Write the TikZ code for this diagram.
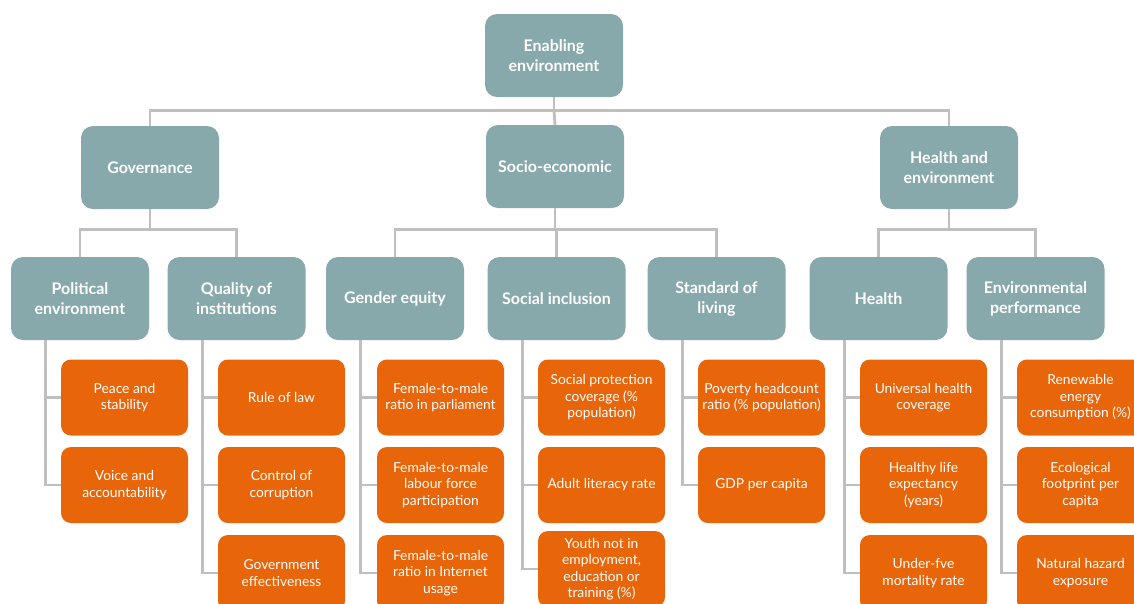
\documentclass[tikz,border=0pt]{standalone}
\usepackage{fontspec}
\setmainfont{Lato}
\definecolor{tealbox}{HTML}{88A9AC}
\definecolor{orangebox}{HTML}{E8650A}
\definecolor{linegray}{HTML}{BFBFBF}
\begin{document}
\begin{tikzpicture}[x=1pt,y=-1pt,
  catbox/.style={fill=tealbox,rounded corners=12pt,minimum width=138pt,minimum height=83pt,
    text=white,align=center,font=\fontsize{16}{20}\selectfont\bfseries,inner sep=2pt},
  indbox/.style={fill=orangebox,rounded corners=10pt,minimum width=127pt,minimum height=76pt,
    text=white,align=center,font=\fontsize{13.8}{16.5}\selectfont,inner sep=1pt},
  conn/.style={draw=linegray,line width=2.8pt}]
\useasboundingbox (0,0) rectangle (1134,603);
\clip (0,0) rectangle (1134,603);
% top level
\node[catbox] (top) at (554,55.5) {Enabling\\environment};
% level 2
\node[catbox] (gov) at (150,167.5) {Governance};
\node[catbox] (soc) at (555,166.5) {Socio-economic};
\node[catbox] (hae) at (949,167.5) {Health and\\environment};
% level 3
\node[catbox] (pol) at (80,298.5) {Political\\environment};
\node[catbox] (qual) at (236.5,298.5) {Quality of\\institutions};
\node[catbox] (gen) at (395,298.5) {Gender equity};
\node[catbox] (sinc) at (556.5,298.5) {Social inclusion};
\node[catbox] (std) at (716.5,298.5) {Standard of\\living};
\node[catbox] (hlth) at (878.5,298.5) {Health};
\node[catbox] (envp) at (1035.5,298.5) {Environmental\\performance};
% indicators
\node[indbox] (pol1) at (124.5,397.5) {Peace and\\stability};
\node[indbox] (pol2) at (124.5,485) {Voice and\\accountability};
\node[indbox] (qual1) at (281.5,397.5) {Rule of law};
\node[indbox] (qual2) at (281.5,485) {Control of\\corruption};
\node[indbox] (qual3) at (281.5,573) {Government\\effectiveness};
\node[indbox] (gen1) at (440.5,397.5) {Female-to-male\\ratio in parliament};
\node[indbox] (gen2) at (440.5,485) {Female-to-male\\labour force\\participation};
\node[indbox] (gen3) at (440.5,573) {Female-to-male\\ratio in Internet\\usage};
\node[indbox] (sinc1) at (601.5,397.5) {Social protection\\coverage (\%\\population)};
\node[indbox] (sinc2) at (601.5,485) {Adult literacy rate};
\node[indbox] (sinc3) at (601.5,569) {Youth not in\\employment,\\education or\\training (\%)};
\node[indbox] (std1) at (761.5,397.5) {Poverty headcount\\ratio (\% population)};
\node[indbox] (std2) at (761.5,485) {GDP per capita};
\node[indbox] (hlth1) at (923.5,397.5) {Universal health\\coverage};
\node[indbox] (hlth2) at (923.5,485) {Healthy life\\expectancy\\(years)};
\node[indbox] (hlth3) at (923.5,573) {Under-fve\\mortality rate};
\node[indbox] (envp1) at (1080.5,397.5) {Renewable\\energy\\consumption (\%)};
\node[indbox] (envp2) at (1080.5,485) {Ecological\\footprint per\\capita};
\node[indbox] (envp3) at (1080.5,573) {Natural hazard\\exposure};
% connectors level 1-2
\draw[conn] (top.south) -- ++(0,13.5) coordinate (h0);
\draw[conn] (gov.north) |- (h0) -| (hae.north);
\draw[conn] (h0) -- (soc.north);
% level 2-3
\draw[conn] (gov.south) -- ++(0,20.5) coordinate (h1);
\draw[conn] (pol.north) |- (h1) -| (qual.north);
\draw[conn] (soc.south) -- ++(0,21.5) coordinate (h2);
\draw[conn] (gen.north) |- (h2) -| (std.north);
\draw[conn] (h2) -| (sinc.north);
\draw[conn] (hae.south) -- ++(0,20.5) coordinate (h3);
\draw[conn] (hlth.north) |- (h3) -| (envp.north);
% level 3-indicators
\foreach \p/\list in {pol/{pol1,pol2},qual/{qual1,qual2,qual3},gen/{gen1,gen2,gen3},
  sinc/{sinc1,sinc2,sinc3},std/{std1,std2},hlth/{hlth1,hlth2,hlth3},envp/{envp1,envp2,envp3}}{
  \foreach \c in \list {
    \draw[conn] ([xshift=35pt]\p.south west) |- (\c.west);
  }
}
\end{tikzpicture}
\end{document}
